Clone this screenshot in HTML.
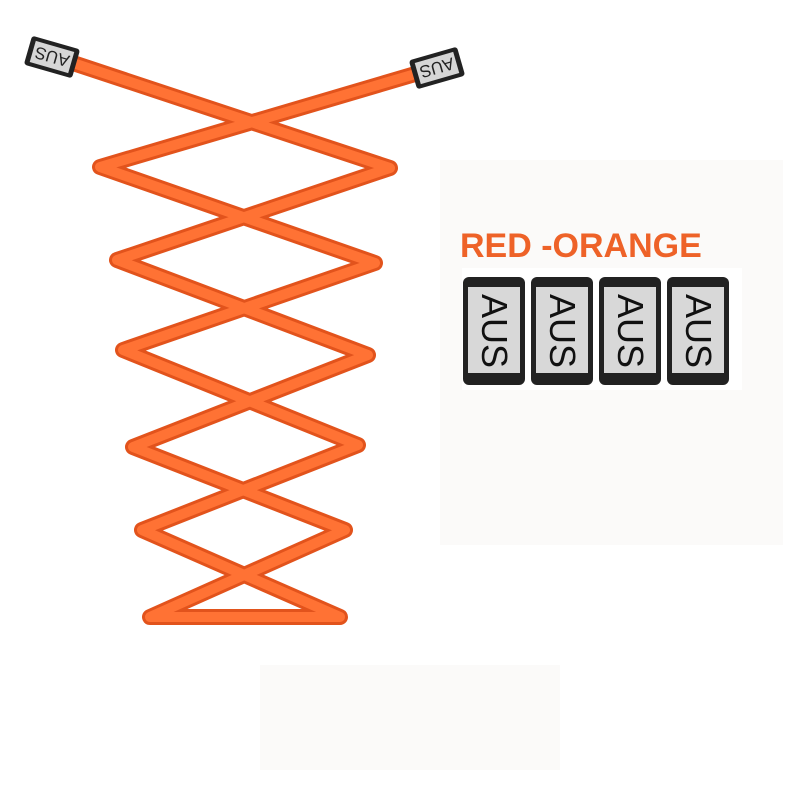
<!DOCTYPE html>
<html><head><style>
html,body{margin:0;padding:0;background:#fff;width:800px;height:800px;overflow:hidden;}
</style></head><body>
<svg width="800" height="800" viewBox="0 0 800 800" xmlns="http://www.w3.org/2000/svg">
<rect x="440" y="160" width="343" height="385" fill="#fbfaf9"/>
<rect x="260" y="665" width="300" height="105" fill="#fbfaf9"/>
<rect x="462" y="268" width="280" height="122" fill="#ffffff"/>
<text x="460" y="257" font-family="Liberation Sans, sans-serif" font-weight="bold" font-size="34" fill="#ee6228">RED -ORANGE</text>
<g font-family="Liberation Sans, sans-serif" font-size="36" fill="#111">
 <g transform="translate(463,277)">
  <rect x="0" y="0" width="62" height="108" rx="6" fill="#222"/><rect x="5" y="10" width="52" height="86" fill="#d8d8d8"/>
  <text transform="translate(19,54) rotate(90)" text-anchor="middle">AUS</text></g>
 <g transform="translate(531,277)">
  <rect x="0" y="0" width="62" height="108" rx="6" fill="#222"/><rect x="5" y="10" width="52" height="86" fill="#d8d8d8"/>
  <text transform="translate(19,54) rotate(90)" text-anchor="middle">AUS</text></g>
 <g transform="translate(599,277)">
  <rect x="0" y="0" width="62" height="108" rx="6" fill="#222"/><rect x="5" y="10" width="52" height="86" fill="#d8d8d8"/>
  <text transform="translate(19,54) rotate(90)" text-anchor="middle">AUS</text></g>
 <g transform="translate(667,277)">
  <rect x="0" y="0" width="62" height="108" rx="6" fill="#222"/><rect x="5" y="10" width="52" height="86" fill="#d8d8d8"/>
  <text transform="translate(19,54) rotate(90)" text-anchor="middle">AUS</text></g>
</g>
<g fill="none" stroke-linejoin="round" stroke-linecap="round">
 <polyline points="70,62 390,168 117,260 368,355 133,447 345,530 150,617 340,617 142,530 358,445 123,350 375,263 100,167 422,72" stroke="#e2531c" stroke-width="16"/>
 <polyline points="70,62 390,168 117,260 368,355 133,447 345,530 150,617 340,617 142,530 358,445 123,350 375,263 100,167 422,72" stroke="#ff7234" stroke-width="10"/>
</g>
<g font-family="Liberation Sans, sans-serif" font-size="17" fill="#222">
 <g transform="translate(52,57) rotate(16)">
  <rect x="-25" y="-15" width="50" height="30" rx="3" fill="#222"/><rect x="-20" y="-11" width="40" height="22" fill="#d6d6d6"/>
  <text transform="rotate(180)" text-anchor="middle" y="6">AUS</text></g>
 <g transform="translate(437,68) rotate(-16)">
  <rect x="-25" y="-15" width="50" height="30" rx="3" fill="#222"/><rect x="-20" y="-11" width="40" height="22" fill="#d6d6d6"/>
  <text transform="rotate(180)" text-anchor="middle" y="6">AUS</text></g>
</g>
</svg>
</body></html>
